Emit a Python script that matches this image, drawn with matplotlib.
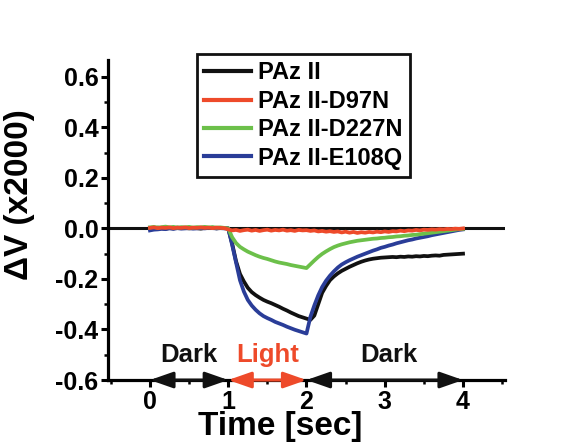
import matplotlib
matplotlib.use('Agg')
import matplotlib.pyplot as plt
from matplotlib.ticker import MultipleLocator

plt.rcParams['font.family'] = ['Liberation Sans', 'DejaVu Sans']
plt.rcParams['font.weight'] = 'bold'
plt.rcParams['axes.unicode_minus'] = False

# time points (sec)
times = [0.00, 0.05, 0.10, 0.15, 0.20, 0.25, 0.30, 0.35, 0.40, 0.45,
         0.50, 0.55, 0.60, 0.65, 0.70, 0.75, 0.80, 0.85, 0.90, 0.95,
         1.00, 1.05, 1.10, 1.15, 1.20, 1.25, 1.30, 1.35, 1.40, 1.45,
         1.50, 1.55, 1.60, 1.65, 1.70, 1.75, 1.80, 1.85, 1.90, 1.95,
         2.00, 2.05, 2.10, 2.15, 2.20, 2.25, 2.30, 2.35, 2.40, 2.45,
         2.50, 2.55, 2.60, 2.65, 2.70, 2.75, 2.80, 2.85, 2.90, 2.95,
         3.00, 3.05, 3.10, 3.15, 3.20, 3.25, 3.30, 3.35, 3.40, 3.45,
         3.50, 3.55, 3.60, 3.65, 3.70, 3.75, 3.80, 3.85, 3.90, 3.95,
         4.00]

paz = [0.002, 0.000, 0.003, 0.001, -0.001, 0.002, 0.000, 0.003, 0.001, 0.002,
       0.000, 0.002, 0.001, -0.001, 0.002, 0.001, 0.003, 0.000, 0.002, 0.001,
       0.000, -0.060, -0.130, -0.180, -0.210, -0.235, -0.252, -0.264, -0.274, -0.283,
       -0.290, -0.296, -0.303, -0.310, -0.318, -0.325, -0.333, -0.340, -0.347, -0.352,
       -0.357, -0.362, -0.345, -0.300, -0.255, -0.228, -0.205, -0.190, -0.178, -0.168,
       -0.160, -0.152, -0.145, -0.138, -0.132, -0.127, -0.123, -0.120, -0.118, -0.116,
       -0.115, -0.114, -0.113, -0.114, -0.112, -0.113, -0.111, -0.112, -0.110, -0.111,
       -0.109, -0.110, -0.108, -0.107, -0.108, -0.105, -0.104, -0.103, -0.102, -0.101,
       -0.100]

d97n = [0.002, 0.004, 0.001, 0.003, 0.002, 0.004, 0.001, 0.003, 0.002, 0.004,
        0.001, 0.003, 0.002, 0.004, 0.002, 0.003, 0.001, 0.003, 0.002, 0.001,
        -0.004, -0.008, -0.006, -0.010, -0.007, -0.005, -0.009, -0.006, -0.010, -0.007,
        -0.005, -0.009, -0.006, -0.008, -0.005, -0.009, -0.007, -0.010, -0.006, -0.008,
        -0.007, -0.010, -0.008, -0.012, -0.010, -0.013, -0.011, -0.014, -0.012, -0.016,
        -0.013, -0.017, -0.014, -0.018, -0.015, -0.017, -0.014, -0.016, -0.013, -0.015,
        -0.012, -0.014, -0.011, -0.012, -0.009, -0.011, -0.008, -0.009, -0.006, -0.008,
        -0.005, -0.006, -0.004, -0.005, -0.003, -0.004, -0.002, -0.003, -0.001, -0.002,
        0.000]

d227n = [0.004, 0.006, 0.003, 0.005, 0.007, 0.004, 0.006, 0.003, 0.005, 0.004,
         0.006, 0.003, 0.005, 0.004, 0.006, 0.004, 0.005, 0.003, 0.004, 0.002,
         0.000, -0.035, -0.058, -0.073, -0.083, -0.092, -0.099, -0.106, -0.112, -0.117,
         -0.121, -0.126, -0.131, -0.135, -0.138, -0.141, -0.145, -0.148, -0.151, -0.154,
         -0.157, -0.142, -0.127, -0.113, -0.101, -0.091, -0.082, -0.074, -0.068, -0.063,
         -0.059, -0.055, -0.052, -0.049, -0.047, -0.045, -0.043, -0.041, -0.040, -0.038,
         -0.037, -0.035, -0.034, -0.032, -0.031, -0.029, -0.028, -0.026, -0.025, -0.023,
         -0.021, -0.019, -0.017, -0.015, -0.013, -0.011, -0.009, -0.007, -0.005, -0.003,
         -0.002]

e108q = [-0.008, -0.005, -0.004, -0.002, -0.003, 0.000, -0.002, 0.001, -0.001, 0.000,
         0.001, -0.001, 0.000, 0.001, 0.000, 0.002, 0.001, 0.000, 0.001, 0.000,
         0.000, -0.065, -0.135, -0.205, -0.250, -0.283, -0.305, -0.322, -0.336, -0.347,
         -0.355, -0.362, -0.370, -0.376, -0.382, -0.389, -0.395, -0.401, -0.406, -0.411,
         -0.416, -0.350, -0.305, -0.265, -0.232, -0.207, -0.187, -0.170, -0.155, -0.143,
         -0.134, -0.126, -0.119, -0.112, -0.106, -0.100, -0.094, -0.088, -0.083, -0.077,
         -0.073, -0.068, -0.064, -0.059, -0.055, -0.051, -0.047, -0.044, -0.040, -0.037,
         -0.034, -0.031, -0.027, -0.024, -0.021, -0.018, -0.015, -0.012, -0.009, -0.006,
         -0.004]

# light / dark periods on the time axis
periods = [(0, 1, 'Dark'), (1, 2, 'Light'), (2, 4, 'Dark')]
period_label_x = [0.5, 1.5, 3.05]

black = '#111111'
red = '#ee4a2a'
green = '#6cc04a'
blue = '#2a3d98'

fig = plt.figure(figsize=(5.73, 4.45), dpi=100)
ax = fig.add_axes([0.1885, 0.146, 0.6925, 0.719])

ax.axhline(0, color=black, lw=2.2, zorder=1)
l1, = ax.plot(times, paz, color=black, lw=2.7, zorder=2, label='PAz II')
l4, = ax.plot(times, e108q, color=blue, lw=2.7, zorder=3, label='PAz II-E108Q')
l3, = ax.plot(times, d227n, color=green, lw=2.7, zorder=4, label='PAz II-D227N')
l2, = ax.plot(times, d97n, color=red, lw=2.7, zorder=5, label='PAz II-D97N')

ax.set_xlim(-0.536, 4.534)
ax.set_ylim(-0.6, 0.666)
ax.set_xticks([0, 1, 2, 3, 4])
ax.set_yticks([-0.6, -0.4, -0.2, 0.0, 0.2, 0.4, 0.6])
ax.set_yticklabels(['-0.6', '-0.4', '-0.2', '0.0', '0.2', '0.4', '0.6'])
ax.xaxis.set_minor_locator(MultipleLocator(0.5))
ax.yaxis.set_minor_locator(MultipleLocator(0.1))
ax.tick_params(which='major', direction='out', length=5, width=2.2, labelsize=18, pad=2)
ax.tick_params(which='minor', direction='out', length=3, width=1.8)

for side in ['top', 'right']:
    ax.spines[side].set_visible(False)
for side in ['left', 'bottom']:
    ax.spines[side].set_linewidth(2.3)

for lab in ax.get_xticklabels() + ax.get_yticklabels():
    lab.set_fontweight('bold')

ax.set_xlabel('Time [sec]', fontsize=24, fontweight='bold')
ax.xaxis.set_label_coords(0.433, -0.098, transform=ax.transAxes)
ax.xaxis.label.set_va('top')
ax.set_ylabel('ΔV (x2000)', fontsize=24, fontweight='bold')
ax.yaxis.set_label_coords(-0.185, 0.58)

# arrows for the light / dark periods
for (t0, t1, name), tx in zip(periods, period_label_x):
    c = red if name == 'Light' else black
    ax.annotate('', xy=(t1, -0.6), xytext=(t0, -0.6),
                arrowprops=dict(arrowstyle='<|-|>,head_length=1.0,head_width=0.35',
                                mutation_scale=14, color=c, lw=2.2, shrinkA=0, shrinkB=0),
                annotation_clip=False, zorder=6)
    ax.text(tx, -0.5, name, color=c, fontsize=18.5, fontweight='bold',
            ha='center', va='center')

leg = ax.legend(handles=[l1, l2, l3, l4], loc='upper left',
                bbox_to_anchor=(0.224, 1.018), borderaxespad=0,
                prop={'size': 17, 'weight': 'bold'}, handlelength=2.0,
                handletextpad=0.3, borderpad=0.3, labelspacing=0.23,
                fancybox=False, framealpha=1)
leg.get_frame().set_edgecolor(black)
leg.get_frame().set_linewidth(2.0)
for h in leg.get_lines():
    h.set_linewidth(3.0)

fig.savefig('out.png', dpi=100)
